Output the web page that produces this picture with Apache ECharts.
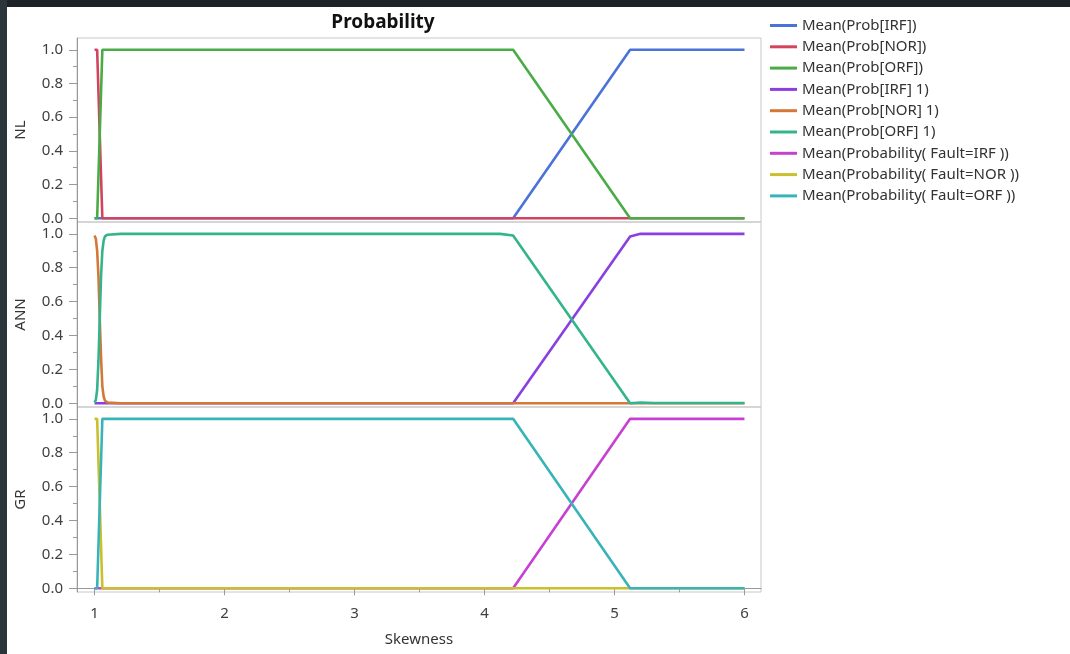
<!DOCTYPE html>
<html>
<head>
<meta charset="utf-8">
<script src="https://cdn.jsdelivr.net/npm/echarts@6/dist/echarts.min.js"></script>
<style>
html,body{margin:0;padding:0;background:#fff;}
#chart{width:1070px;height:654px;}
</style>
</head>
<body>
<div id="chart"></div>
<script>
// ---- data ----
const seriesNames = [
  'Mean(Prob[IRF])', 'Mean(Prob[NOR])', 'Mean(Prob[ORF])',
  'Mean(Prob[IRF] 1)', 'Mean(Prob[NOR] 1)', 'Mean(Prob[ORF] 1)',
  'Mean(Probability( Fault=IRF ))', 'Mean(Probability( Fault=NOR ))', 'Mean(Probability( Fault=ORF ))'
];
const seriesColors = ['#4a72d8', '#d2445e', '#4aac46', '#8a3fe0', '#d4783a', '#34b48c', '#c640d2', '#c9c02c', '#38b4b8'];
const panelNames = ['NL', 'ANN', 'GR'];
const xTickLabels = [1, 2, 3, 4, 5, 6];
const yTickLabels = [0, 0.2, 0.4, 0.6, 0.8, 1.0];

// NL panel
const nlX   = [1.0, 1.02, 1.06, 4.22, 5.12, 6.0];
const nlIRF = [0, 0, 0, 0, 1, 1];
const nlNOR = [1, 1, 0, 0, 0, 0];
const nlORF = [0, 0, 1, 1, 0, 0];

// ANN panel
const annX    = [1.0, 1.01, 1.02, 1.03, 1.04, 1.05, 1.06, 1.07, 1.08, 1.1, 1.2, 1.5, 4.12, 4.22, 5.12, 5.2, 5.3, 6.0];
const annIRF1 = [0, 0, 0, 0, 0, 0, 0, 0, 0, 0, 0, 0, 0, 0, 0.985, 1.0, 1.0, 1.0];
const annNOR1 = [0.99, 0.97, 0.9, 0.75, 0.5, 0.27, 0.1, 0.04, 0.015, 0.005, 0, 0, 0, 0, 0, 0, 0, 0];
const annORF1 = [0.005, 0.02, 0.08, 0.25, 0.5, 0.75, 0.9, 0.96, 0.985, 0.995, 1.0, 1.0, 1.0, 0.99, 0.0, 0.005, 0.002, 0.002];

// GR panel
const grX    = [1.0, 1.02, 1.06, 4.22, 5.12, 6.0];
const grPIRF = [0, 0, 0, 0, 1, 1];
const grPNOR = [1, 1, 0, 0, 0, 0];
const grPORF = [0, 0, 1, 1, 0, 0];

// ---- layout ----
const XMIN = 0.865, XMAX = 6.127;
const YMIN = -0.022, YMAX = 1.07;
const FONT = 'Noto Sans';
const gridTops = [38, 222, 407];
const gridHeights = [184, 185, 185];

function pairs(xs, ys) { return xs.map((x, i) => [x, ys[i]]); }

const grids = gridTops.map((t, i) => ({
  left: 77, right: 309, top: t, height: gridHeights[i],
  show: true, borderColor: '#c8c8c8', borderWidth: 1, backgroundColor: 'transparent'
}));

const xAxes = [0, 1, 2].map(i => ({
  type: 'value', gridIndex: i, min: XMIN, max: XMAX, position: 'bottom',
  show: i === 2,
  name: i === 2 ? 'Skewness' : '', nameLocation: 'middle', nameGap: 40,
  nameTextStyle: { fontFamily: FONT, fontSize: 15, color: '#333' },
  axisLine: { show: true, lineStyle: { color: '#999', width: 1 } },
  axisTick: { show: true, length: 7, customValues: xTickLabels, lineStyle: { color: '#999' } },
  axisLabel: { show: true, customValues: xTickLabels, margin: 14, fontFamily: FONT, fontSize: 15, color: '#404040' },
  splitLine: { show: false }
}));
xAxes.push({
  type: 'value', gridIndex: 2, min: XMIN, max: XMAX, position: 'bottom',
  axisLine: { show: false },
  axisTick: { show: true, length: 4, customValues: [1.5, 2.5, 3.5, 4.5, 5.5], lineStyle: { color: '#999' } },
  axisLabel: { show: false },
  splitLine: { show: false }
});

const yAxes = [0, 1, 2].map(i => ({
  type: 'value', gridIndex: i, min: YMIN, max: YMAX, position: 'left',
  name: panelNames[i], nameLocation: 'middle', nameGap: 49,
  nameTextStyle: { fontFamily: FONT, fontSize: 15, color: '#333' },
  axisLine: { show: true, lineStyle: { color: '#999', width: 1 } },
  axisTick: { show: true, length: 8, customValues: yTickLabels, lineStyle: { color: '#999' } },
  axisLabel: { show: true, customValues: yTickLabels, margin: 14, fontFamily: FONT, fontSize: 15, color: '#404040',
    formatter: v => Number(v).toFixed(1) },
  splitLine: { show: false }
}));
[0, 1, 2].forEach(i => yAxes.push({
  type: 'value', gridIndex: i, min: YMIN, max: YMAX, position: 'left',
  axisLine: { show: false },
  axisTick: { show: true, length: 4, customValues: [0.1, 0.3, 0.5, 0.7, 0.9], lineStyle: { color: '#999' } },
  axisLabel: { show: false },
  splitLine: { show: false }
}));

const panelData = [
  [0, pairs(nlX, nlIRF)], [0, pairs(nlX, nlNOR)], [0, pairs(nlX, nlORF)],
  [1, pairs(annX, annIRF1)], [1, pairs(annX, annNOR1)], [1, pairs(annX, annORF1)],
  [2, pairs(grX, grPIRF)], [2, pairs(grX, grPNOR)], [2, pairs(grX, grPORF)]
];

const series = panelData.map((d, k) => ({
  name: seriesNames[k], type: 'line', xAxisIndex: d[0], yAxisIndex: d[0],
  data: d[1], symbol: 'none', smooth: false,
  lineStyle: { color: seriesColors[k], width: 2.6 },
  itemStyle: { color: seriesColors[k] },
  emphasis: { disabled: true }
}));

const chart = echarts.init(document.getElementById('chart'), null, { renderer: 'canvas' });
chart.setOption({
  animation: false,
  backgroundColor: '#ffffff',
  graphic: [
    { type: 'rect', shape: { x: 0, y: 0, width: 1070, height: 7 }, style: { fill: '#1d2327' }, z: 100 },
    { type: 'rect', shape: { x: 0, y: 0, width: 7, height: 654 }, style: { fill: '#2b363c' }, z: 100 },
    { type: 'text', x: 383, y: 23, style: { text: 'Probability', font: 'bold 19px "Noto Sans"', fill: '#111',
      textAlign: 'center', textVerticalAlign: 'middle' } }
  ],
  legend: {
    orient: 'vertical', left: 765, top: 12, itemWidth: 27, itemHeight: 3, itemGap: 4.3,
    icon: 'rect', padding: 5,
    textStyle: { fontFamily: FONT, fontSize: 15, color: '#333', lineHeight: 17 },
    data: seriesNames.map((n, k) => ({ name: n, itemStyle: { color: seriesColors[k] } }))
  },
  grid: grids,
  xAxis: xAxes,
  yAxis: yAxes,
  series: series
});
</script>
</body>
</html>
